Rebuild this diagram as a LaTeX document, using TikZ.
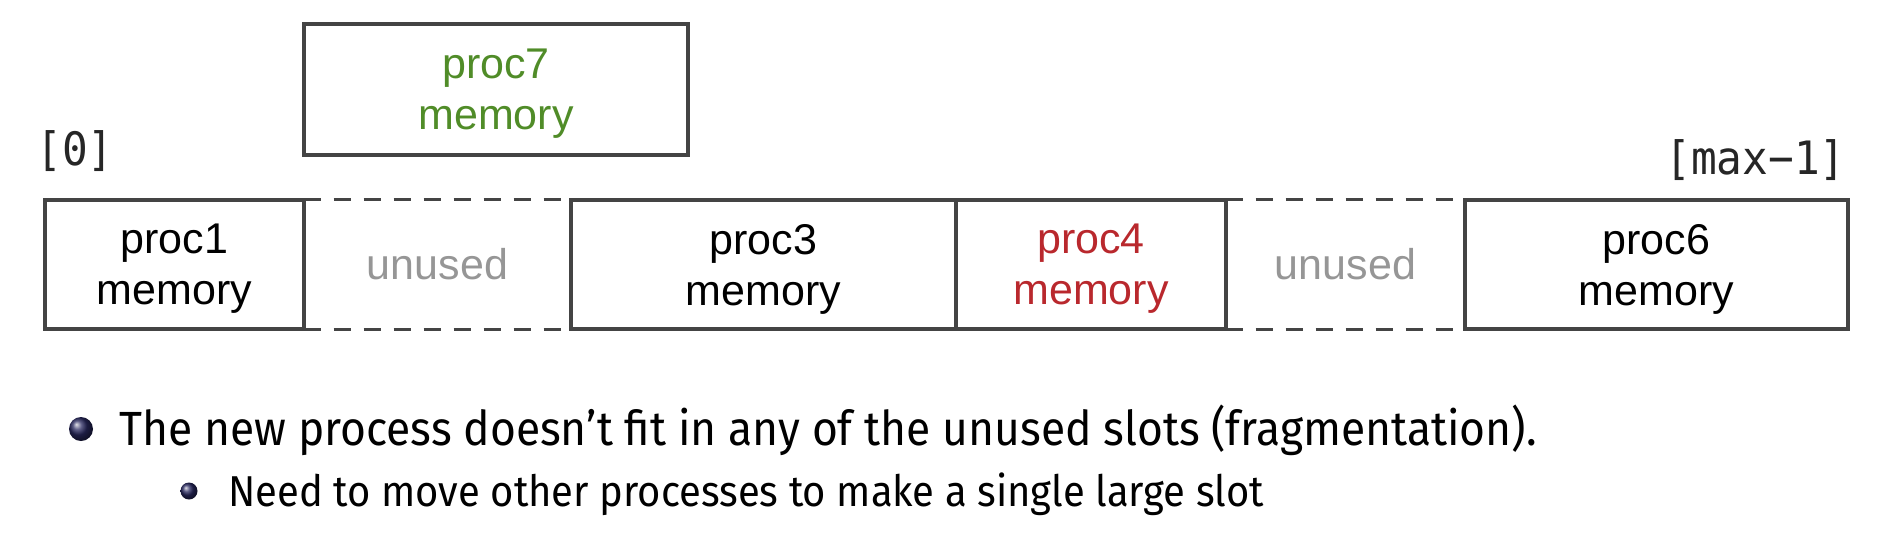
\documentclass[tikz,border=0pt]{standalone}
\usepackage{fontspec}
\setmainfont{Liberation Sans}
\newfontfamily\firafont[FakeStretch=0.925]{Fira Sans}
\newfontfamily\dejamono[FakeStretch=0.93]{DejaVu Sans Mono}
\definecolor{linegray}{RGB}{68,68,68}
\definecolor{procgreen}{RGB}{80,140,40}
\definecolor{procred}{RGB}{185,40,45}
\definecolor{unusedgray}{RGB}{150,150,150}
\definecolor{ballnavy}{RGB}{40,40,95}
\begin{document}
\begin{tikzpicture}[x=0.5pt,y=-0.5pt,
  mem/.style={draw=linegray, line width=1.75pt, inner sep=0pt, align=center,
    minimum height=64.5pt, text depth=0pt, font=\fontsize{21.5}{25.5}\selectfont},
  free/.style={inner sep=0pt, align=center, minimum height=64.5pt,
    text=unusedgray, font=\fontsize{21.5}{25.5}\selectfont},
  dashline/.style={draw=linegray, line width=1.75pt, dash pattern=on 8.5pt off 6.5pt},
  idx/.style={inner sep=0pt, font=\dejamono\fontsize{23}{26}\selectfont, text=black!85},
  bul/.style={inner sep=0pt, font=\firafont\fontsize{24}{28}\selectfont},
  subbul/.style={inner sep=0pt, font=\firafont\fontsize{21.6}{25}\selectfont},
  ballbig/.style={circle, inner sep=0pt, minimum size=12pt, shading=ball, ball color=ballnavy},
  ballsmall/.style={circle, inner sep=0pt, minimum size=8.5pt, shading=ball, ball color=ballnavy}
]
\useasboundingbox (0,0) rectangle (1898,546);
% new process
\node[mem, minimum width=192pt, minimum height=65.5pt, text=procgreen] (p7) at (496,89.5) {proc7\\memory};
% memory row
\node[mem, minimum width=129.5pt] (p1) at (174.5,264.5) {proc1\\memory};
\node[free, minimum width=133.5pt] (u1) at (437.5,264.5) {unused};
\node[mem, minimum width=192.5pt] (p3) at (763.5,264.5) {proc3\\memory};
\node[mem, minimum width=135pt, text=procred] (p4) at (1091,264.5) {proc4\\memory};
\node[free, minimum width=119.5pt] (u2) at (1345.5,264.5) {unused};
\node[mem, minimum width=191.5pt] (p6) at (1656.5,264.5) {proc6\\memory};
\draw[dashline] (u1.north west) -- (u1.north east);
\draw[dashline] (u1.south west) -- (u1.south east);
\draw[dashline] (u2.north west) -- (u2.north east);
\draw[dashline] (u2.south west) -- (u2.south east);
% indices
\node[idx, anchor=west] (i0) at (36,151) {[0]};
\node[idx, anchor=east] (imax) at (1846,160) {[max−1]};
% bullets
\node[ballbig] (b1) at (81,429) {};
\node[bul, anchor=west] (t1) at (119,430) {The new process doesn’t fit in any of the unused slots (fragmentation).};
\node[ballsmall] (b2) at (189,491) {};
\node[subbul, anchor=west] (t2) at (228,494) {Need to move other processes to make a single large slot};
\end{tikzpicture}
\end{document}
